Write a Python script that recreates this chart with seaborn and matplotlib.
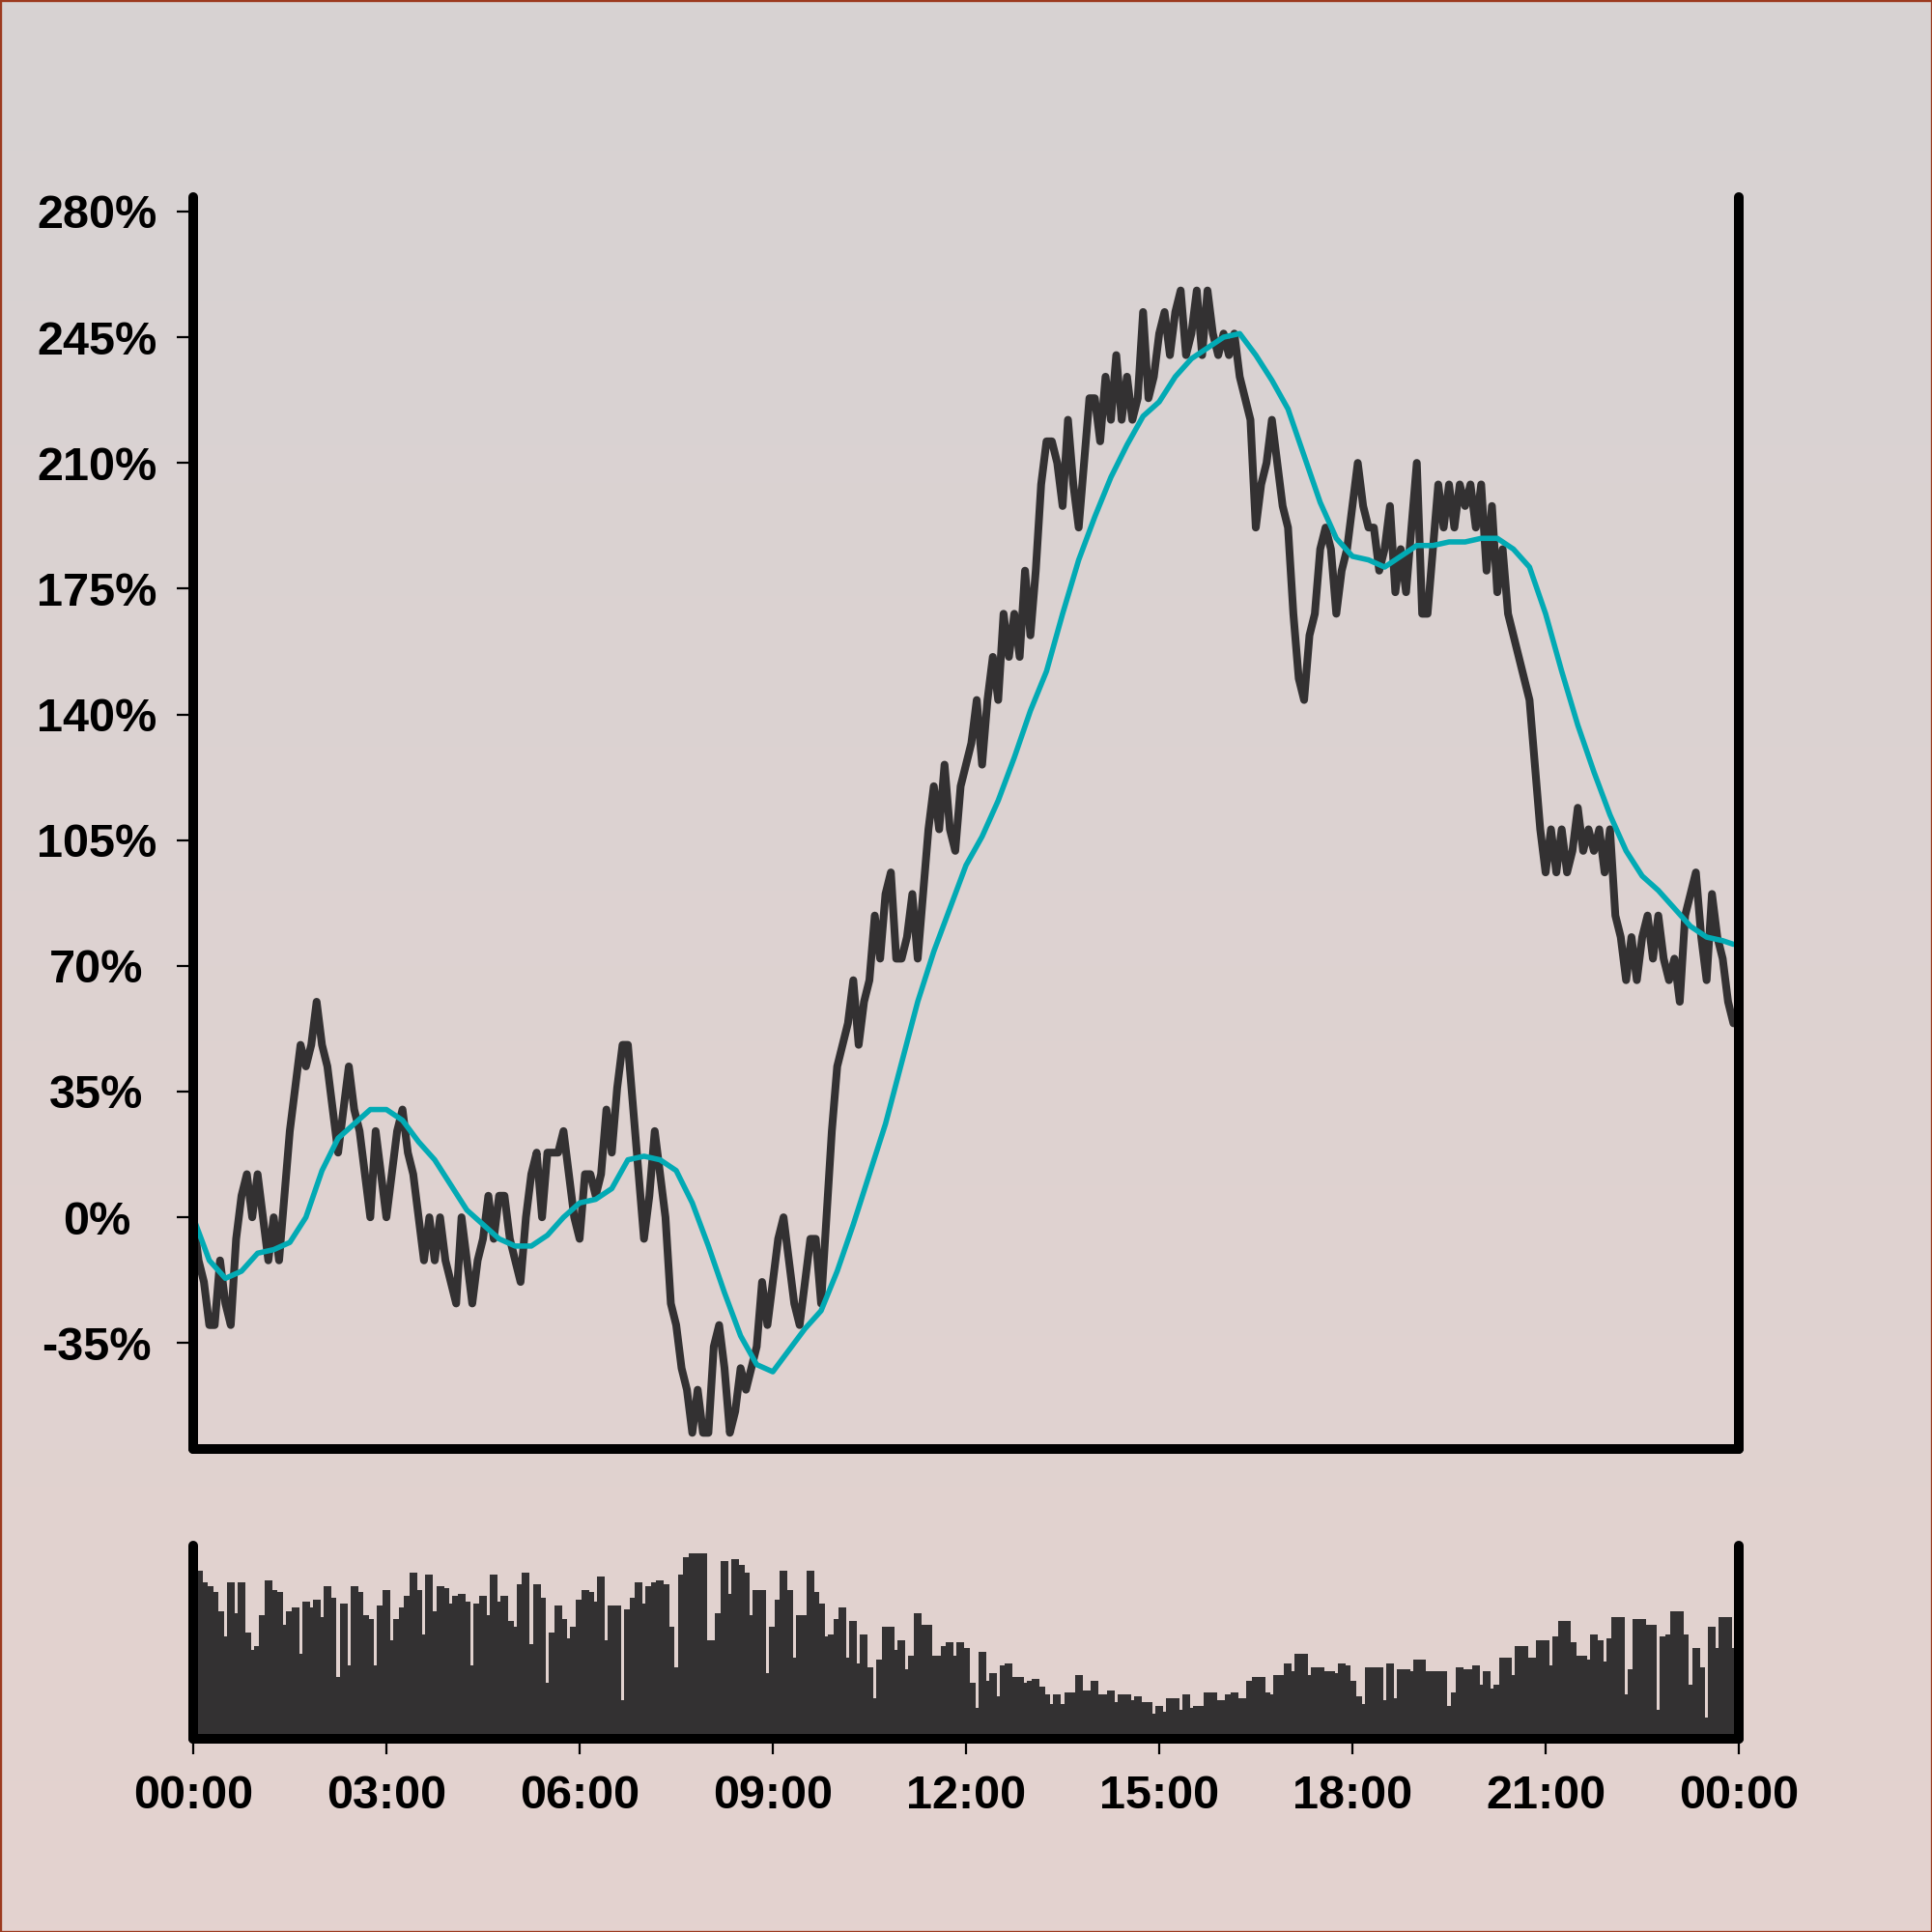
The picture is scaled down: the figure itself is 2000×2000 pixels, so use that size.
import numpy as np
import pandas as pd
import matplotlib
matplotlib.use("Agg")
import matplotlib.pyplot as plt
import matplotlib.dates as mdates
from matplotlib.patches import Rectangle
import seaborn as sns

# change in percent, one reading per 5 minutes (one row per hour)
change_pct = [
    0, -12, -18, -30, -30, -12, -24, -30, -6, 6, 12, 0,
    12, 0, -12, 0, -12, 6, 24, 36, 48, 42, 48, 60,
    48, 42, 30, 18, 30, 42, 30, 24, 12, 0, 24, 12,
    0, 12, 24, 30, 18, 12, 0, -12, 0, -12, 0, -12,
    -18, -24, 0, -12, -24, -12, -6, 6, -6, 6, 6, -6,
    -12, -18, 0, 12, 18, 0, 18, 18, 18, 24, 12, 0,
    -6, 12, 12, 6, 12, 30, 18, 36, 48, 48, 30, 12,
    -6, 6, 24, 12, 0, -24, -30, -42, -48, -60, -48, -60,
    -60, -36, -30, -42, -60, -54, -42, -48, -42, -36, -18, -30,
    -18, -6, 0, -12, -24, -30, -18, -6, -6, -24, 0, 24,
    42, 48, 54, 66, 48, 60, 66, 84, 72, 90, 96, 72,
    72, 78, 90, 72, 90, 108, 120, 108, 126, 108, 102, 120,
    126, 132, 144, 126, 144, 156, 144, 168, 156, 168, 156, 180,
    162, 180, 204, 216, 216, 210, 198, 222, 204, 192, 210, 228,
    228, 216, 234, 222, 240, 222, 234, 222, 228, 252, 228, 234,
    246, 252, 240, 252, 258, 240, 246, 258, 240, 258, 246, 240,
    246, 240, 246, 234, 228, 222, 192, 204, 210, 222, 210, 198,
    192, 168, 150, 144, 162, 168, 186, 192, 186, 168, 180, 186,
    198, 210, 198, 192, 192, 180, 186, 198, 174, 186, 174, 192,
    210, 168, 168, 186, 204, 192, 204, 192, 204, 198, 204, 192,
    204, 180, 198, 174, 186, 168, 162, 156, 150, 144, 126, 108,
    96, 108, 96, 108, 96, 102, 114, 102, 108, 102, 108, 96,
    108, 84, 78, 66, 78, 66, 78, 84, 72, 84, 72, 66,
    72, 60, 84, 90, 96, 78, 66, 90, 78, 72, 60, 54,
]

# moving average, read every 15 minutes (last reading at 23:55)
avg_pct = [
    0, -12, -17, -15, -10, -9, -7, 0, 13, 22, 26, 30,
    30, 27, 21, 16, 9, 2, -2, -6, -8, -8, -5, 0,
    4, 5, 8, 16, 17, 16, 13, 4, -8, -21, -33, -41,
    -43, -37, -31, -26, -15, -2, 12, 26, 43, 60, 74, 86,
    98, 106, 116, 128, 141, 152, 168, 183, 195, 206, 215, 223,
    227, 234, 239, 242, 245, 246, 240, 233, 225, 212, 199, 189,
    184, 183, 181, 184, 187, 187, 188, 188, 189, 189, 186, 181,
    168, 152, 137, 124, 112, 102, 95, 91, 86, 81, 78, 77,
    76,
]

# traded volume per 5 minutes (relative units)
volume = [
    87, 87, 81, 79, 76, 66, 53, 81, 65, 81, 55, 46,
    48, 64, 82, 77, 76, 59, 66, 68, 44, 71, 68, 72,
    63, 79, 73, 32, 70, 38, 79, 76, 64, 62, 38, 69,
    77, 51, 62, 68, 74, 86, 77, 54, 85, 66, 79, 78,
    70, 74, 75, 71, 38, 70, 74, 64, 85, 71, 74, 61,
    58, 80, 86, 49, 80, 73, 29, 55, 69, 62, 52, 58,
    72, 77, 76, 71, 84, 51, 69, 69, 20, 67, 73, 81,
    70, 79, 81, 82, 80, 58, 37, 85, 94, 96, 96, 96,
    51, 51, 65, 92, 75, 93, 90, 86, 64, 77, 77, 34,
    58, 72, 87, 77, 42, 64, 64, 87, 76, 70, 53, 54,
    62, 68, 42, 61, 39, 54, 37, 21, 41, 58, 58, 46,
    51, 36, 43, 65, 59, 59, 43, 43, 48, 50, 43, 50,
    47, 29, 16, 45, 30, 34, 22, 38, 39, 32, 32, 29,
    30, 31, 27, 23, 18, 23, 18, 24, 24, 33, 25, 25,
    30, 23, 23, 25, 19, 23, 23, 20, 22, 19, 19, 13,
    17, 14, 21, 21, 15, 23, 16, 17, 17, 24, 24, 20,
    20, 23, 24, 21, 21, 30, 32, 32, 24, 23, 33, 33,
    39, 35, 44, 44, 33, 37, 37, 35, 35, 34, 39, 38,
    30, 22, 18, 37, 37, 37, 20, 39, 21, 36, 36, 35,
    41, 41, 35, 35, 35, 35, 17, 24, 37, 36, 36, 38,
    28, 35, 26, 28, 42, 42, 33, 48, 48, 42, 42, 51,
    51, 38, 53, 61, 61, 50, 43, 43, 41, 54, 51, 40,
    52, 63, 63, 23, 36, 62, 62, 59, 59, 15, 53, 54,
    66, 66, 54, 28, 47, 37, 11, 58, 47, 63, 63, 47,
]

y_ticks = [-35, 0, 35, 70, 105, 140, 175, 210, 245, 280]
y_tick_labels = [f"{v}%" for v in y_ticks]

day = pd.Timestamp("2024-01-01")
times = pd.date_range(day, periods=len(change_pct), freq="5min")
avg_times = list(pd.date_range(day, periods=len(avg_pct) - 1, freq="15min")) + [times[-1]]
x_ticks = pd.date_range(day, periods=9, freq="3h")

price = pd.DataFrame({"time": times, "change": change_pct, "volume": volume})
avg = pd.DataFrame({"time": avg_times, "avg": avg_pct})

sns.set_theme(style="white")
plt.rcParams["font.family"] = ["Liberation Sans", "DejaVu Sans"]
plt.rcParams["font.weight"] = "bold"
plt.rcParams["axes.unicode_minus"] = False

dark = "#333132"
teal = "#02aab4"

fig = plt.figure(figsize=(10, 10), dpi=200)

# gradient background
bg = fig.add_axes([0, 0, 1, 1], zorder=-5)
grad = np.linspace(0, 1, 256).reshape(-1, 1)
top_c = np.array([215, 211, 211]) / 255
bot_c = np.array([228, 210, 207]) / 255
img = top_c[None, None, :] * (1 - grad[:, :, None]) + bot_c[None, None, :] * grad[:, :, None]
bg.imshow(img, aspect="auto", extent=[0, 1, 0, 1])
bg.set_axis_off()
fig.patches.append(Rectangle((0, 0), 1, 1, transform=fig.transFigure, fill=False,
                             edgecolor="#9c3a1f", linewidth=1.2, zorder=10))

ax = fig.add_axes([0.1, 0.25, 0.8, 0.648])
vax = fig.add_axes([0.1, 0.1, 0.8, 0.1], sharex=ax)

sns.lineplot(data=price, x="time", y="change", ax=ax, color=dark, linewidth=2.9)
sns.lineplot(data=avg, x="time", y="avg", ax=ax, color=teal, linewidth=2.0)

vax.bar(price["time"], price["volume"], width=0.005, color=dark, edgecolor="none")

for a in (ax, vax):
    a.set_facecolor("none")
    a.spines["top"].set_visible(False)
    for s in ("left", "right", "bottom"):
        a.spines[s].set_linewidth(3.6)
        a.spines[s].set_color("black")
        a.spines[s].set_capstyle("round")
    a.set_xlabel("")
    a.set_ylabel("")

ax.set_ylim(-64.5, 284)
ax.set_yticks(y_ticks)
ax.set_yticklabels(y_tick_labels, fontsize=17.5, fontweight="bold", ha="center", color="black")
ax.tick_params(axis="y", left=True, length=6, width=0.8, pad=30, color="black")
ax.tick_params(axis="x", bottom=False, labelbottom=False)
ax.set_xlim(day, day + pd.Timedelta(days=1))

vax.set_ylim(0, 100)
vax.set_yticks([])
vax.set_xticks(x_ticks)
vax.xaxis.set_major_formatter(mdates.DateFormatter("%H:%M"))
vax.tick_params(axis="x", bottom=True, length=5.8, width=0.8, pad=7.5, color="black",
                labelsize=17.5, labelcolor="black")
for lbl in vax.get_xticklabels():
    lbl.set_fontweight("bold")

fig.savefig("out.png", dpi=200)
